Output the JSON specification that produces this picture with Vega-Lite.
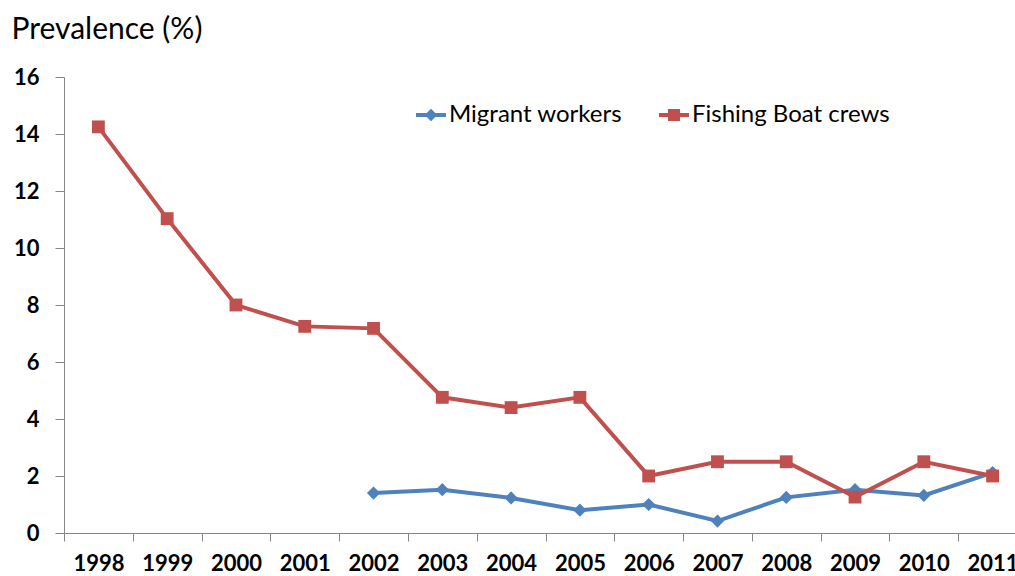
{
  "$schema": "https://vega.github.io/schema/vega-lite/v6.json",
  "autosize": {"type": "none"},
  "padding": {"left": 64, "top": 77, "right": 0, "bottom": 43},
  "width": 963,
  "height": 456,
  "background": "white",
  "config": {"view": {"stroke": null}, "font": "Lato"},
  "data": {"values": [
    {"year": "1998", "series": "Fishing Boat crews", "value": 14.25},
    {"year": "1999", "series": "Fishing Boat crews", "value": 11.03},
    {"year": "2000", "series": "Fishing Boat crews", "value": 8.0},
    {"year": "2001", "series": "Fishing Boat crews", "value": 7.25},
    {"year": "2002", "series": "Fishing Boat crews", "value": 7.18},
    {"year": "2003", "series": "Fishing Boat crews", "value": 4.76},
    {"year": "2004", "series": "Fishing Boat crews", "value": 4.4},
    {"year": "2005", "series": "Fishing Boat crews", "value": 4.76},
    {"year": "2006", "series": "Fishing Boat crews", "value": 2.0},
    {"year": "2007", "series": "Fishing Boat crews", "value": 2.5},
    {"year": "2008", "series": "Fishing Boat crews", "value": 2.5},
    {"year": "2009", "series": "Fishing Boat crews", "value": 1.26},
    {"year": "2010", "series": "Fishing Boat crews", "value": 2.5},
    {"year": "2011", "series": "Fishing Boat crews", "value": 2.0},
    {"year": "2002", "series": "Migrant workers", "value": 1.4},
    {"year": "2003", "series": "Migrant workers", "value": 1.52},
    {"year": "2004", "series": "Migrant workers", "value": 1.23},
    {"year": "2005", "series": "Migrant workers", "value": 0.8},
    {"year": "2006", "series": "Migrant workers", "value": 1.0},
    {"year": "2007", "series": "Migrant workers", "value": 0.42},
    {"year": "2008", "series": "Migrant workers", "value": 1.25},
    {"year": "2009", "series": "Migrant workers", "value": 1.52},
    {"year": "2010", "series": "Migrant workers", "value": 1.32},
    {"year": "2011", "series": "Migrant workers", "value": 2.12}
  ]},
  "encoding": {
    "x": {
      "field": "year", "type": "ordinal", "bandPosition": 0.5,
      "scale": {"type": "band", "paddingInner": 0, "paddingOuter": 0, "domain": ["1998","1999","2000","2001","2002","2003","2004","2005","2006","2007","2008","2009","2010","2011"]},
      "axis": {
        "title": null, "labelAngle": 0, "tickBand": "extent",
        "domainColor": "#868686", "tickColor": "#868686", "domainWidth": 1, "tickWidth": 1,
        "tickSize": 8, "labelPadding": 29, "labelBaseline": "alphabetic",
        "labelFont": "Lato", "labelFontSize": 22, "labelFontWeight": "bold", "labelColor": "#000000"
      }
    },
    "y": {
      "field": "value", "type": "quantitative",
      "scale": {"domain": [0, 16], "nice": false, "zero": true},
      "axis": {
        "title": "Prevalence (%)", "titleAngle": 0, "titleX": -53, "titleY": -39,
        "titleAlign": "left", "titleBaseline": "alphabetic",
        "titleFont": "Lato", "titleFontSize": 30, "titleFontWeight": "normal", "titleColor": "#000000",
        "values": [0, 2, 4, 6, 8, 10, 12, 14, 16], "grid": false,
        "domainColor": "#868686", "tickColor": "#868686", "domainWidth": 1, "tickWidth": 1,
        "tickSize": 9, "labelPadding": 16,
        "labelFont": "Lato", "labelFontSize": 22, "labelFontWeight": "bold", "labelColor": "#000000"
      }
    }
  },
  "layer": [
    {
      "transform": [{"filter": "datum.series === 'Migrant workers'"}],
      "encoding": {
        "color": {
          "field": "series", "type": "nominal",
          "scale": {"domain": ["Migrant workers"], "range": ["#4F81BD"]},
          "legend": {
            "title": null, "orient": "none", "legendX": 352, "legendY": 23,
            "labelFont": "Lato", "labelFontSize": 24, "labelColor": "#000000", "labelLimit": 0,
            "labelOffset": 3, "symbolSize": 900,
            "symbolType": "M-1,-0.13L1,-0.13L1,0.13L-1,0.13Z M0,-0.42L0.42,0L0,0.42L-0.42,0Z",
            "symbolFillColor": "#4F81BD", "symbolStrokeColor": "#4F81BD", "symbolStrokeWidth": 0, "symbolOpacity": 1
          }
        }
      },
      "layer": [
        {"mark": {"type": "line", "strokeWidth": 4}},
        {"mark": {"type": "point", "shape": "diamond", "filled": true, "opacity": 1, "size": 175}}
      ]
    },
    {
      "transform": [{"filter": "datum.series === 'Fishing Boat crews'"}],
      "encoding": {
        "color": {
          "field": "series", "type": "nominal",
          "scale": {"domain": ["Fishing Boat crews"], "range": ["#C0504D"]},
          "legend": {
            "title": null, "orient": "none", "legendX": 595, "legendY": 23,
            "labelFont": "Lato", "labelFontSize": 24, "labelColor": "#000000", "labelLimit": 0,
            "labelOffset": 3, "symbolSize": 900,
            "symbolType": "M-1,-0.13L1,-0.13L1,0.13L-1,0.13Z M-0.4,-0.4L0.4,-0.4L0.4,0.4L-0.4,0.4Z",
            "symbolFillColor": "#C0504D", "symbolStrokeColor": "#C0504D", "symbolStrokeWidth": 0, "symbolOpacity": 1
          }
        }
      },
      "layer": [
        {"mark": {"type": "line", "strokeWidth": 4}},
        {"mark": {"type": "point", "shape": "square", "filled": true, "opacity": 1, "size": 165}}
      ]
    }
  ],
  "resolve": {"scale": {"color": "independent"}, "legend": {"color": "independent"}}
}
